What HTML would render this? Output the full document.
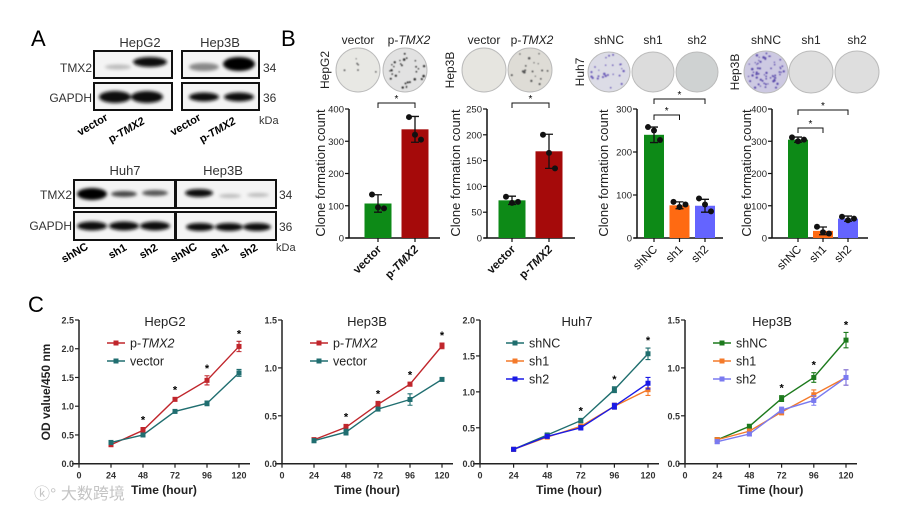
<!DOCTYPE html>
<html><head><meta charset="utf-8"><style>
body{margin:0;background:#fff;}
svg{display:block;font-family:"Liberation Sans",Arial,sans-serif;}
</style></head><body>
<svg id="fig" width="900" height="512" viewBox="0 0 900 512" xmlns="http://www.w3.org/2000/svg">
<defs>
<filter id="blur" x="-30%" y="-80%" width="160%" height="260%"><feGaussianBlur stdDeviation="1.6"/></filter>
<filter id="blur2"><feGaussianBlur stdDeviation="0.6"/></filter>
</defs>
<rect width="900" height="512" fill="#fff"/>
<!-- Panel A -->
<g>
<text x="31" y="46" font-size="22">A</text>
<text x="140" y="47" font-size="13" fill="#333" text-anchor="middle">HepG2</text>
<text x="220" y="47" font-size="13" fill="#333" text-anchor="middle">Hep3B</text>
<text x="92" y="72" font-size="12" fill="#333" text-anchor="end">TMX2</text>
<text x="92" y="102" font-size="12" fill="#333" text-anchor="end">GAPDH</text>
<rect x="94" y="51" width="78" height="27" fill="#f4f4f4" stroke="#111" stroke-width="2"/>
<rect x="94" y="83" width="78" height="27" fill="#f4f4f4" stroke="#111" stroke-width="2"/>
<rect x="182" y="51" width="77" height="27" fill="#f4f4f4" stroke="#111" stroke-width="2"/>
<rect x="182" y="83" width="77" height="27" fill="#f4f4f4" stroke="#111" stroke-width="2"/>
<g filter="url(#blur)">
<ellipse cx="118" cy="67" rx="13" ry="2.5" fill="#bbb"/>
<ellipse cx="150" cy="62" rx="17" ry="5" fill="#111"/>
<ellipse cx="115" cy="97" rx="16" ry="6" fill="#111"/>
<ellipse cx="147" cy="97" rx="16" ry="6" fill="#111"/>
<ellipse cx="204" cy="67" rx="15" ry="4" fill="#888"/>
<ellipse cx="239" cy="64" rx="16" ry="7" fill="#000"/>
<ellipse cx="204" cy="97" rx="15" ry="4.5" fill="#111"/>
<ellipse cx="239" cy="97" rx="15" ry="4.5" fill="#111"/>
</g>
<text x="263" y="72" font-size="12" fill="#333">34</text>
<text x="263" y="102" font-size="12" fill="#333">36</text>
<text x="259" y="124" font-size="11" fill="#333">kDa</text>
<g font-size="11" font-weight="bold" fill="#000">
<text transform="translate(80,136) rotate(-30)">vector</text>
<text transform="translate(111,143) rotate(-30)">p-<tspan font-style="italic">TMX2</tspan></text>
<text transform="translate(173,136) rotate(-30)">vector</text>
<text transform="translate(202,143) rotate(-30)">p-<tspan font-style="italic">TMX2</tspan></text>
</g>
<text x="125" y="175" font-size="13" fill="#333" text-anchor="middle">Huh7</text>
<text x="223" y="175" font-size="13" fill="#333" text-anchor="middle">Hep3B</text>
<text x="72" y="199" font-size="12" fill="#333" text-anchor="end">TMX2</text>
<text x="72" y="230" font-size="12" fill="#333" text-anchor="end">GAPDH</text>
<rect x="74" y="180" width="101" height="28" fill="#f4f4f4" stroke="#111" stroke-width="2"/>
<rect x="74" y="212" width="101" height="28" fill="#f4f4f4" stroke="#111" stroke-width="2"/>
<rect x="176" y="180" width="100" height="28" fill="#f4f4f4" stroke="#111" stroke-width="2"/>
<rect x="176" y="212" width="100" height="28" fill="#f4f4f4" stroke="#111" stroke-width="2"/>
<g filter="url(#blur)">
<ellipse cx="92" cy="194" rx="15" ry="6" fill="#000"/>
<ellipse cx="124" cy="194" rx="13" ry="3" fill="#444"/>
<ellipse cx="155" cy="193" rx="13" ry="3" fill="#555"/>
<ellipse cx="92" cy="226" rx="15" ry="4.5" fill="#111"/>
<ellipse cx="124" cy="226" rx="15" ry="4.5" fill="#111"/>
<ellipse cx="155" cy="226" rx="15" ry="4.5" fill="#111"/>
<ellipse cx="199" cy="193" rx="14" ry="4" fill="#111"/>
<ellipse cx="230" cy="196" rx="11" ry="2" fill="#bbb"/>
<ellipse cx="258" cy="195" rx="11" ry="2" fill="#bbb"/>
<ellipse cx="200" cy="227" rx="14" ry="4" fill="#111"/>
<ellipse cx="229" cy="227" rx="14" ry="4" fill="#111"/>
<ellipse cx="257" cy="227" rx="14" ry="4" fill="#111"/>
</g>
<text x="279" y="199" font-size="12" fill="#333">34</text>
<text x="279" y="231" font-size="12" fill="#333">36</text>
<text x="276" y="251" font-size="11" fill="#333">kDa</text>
<g font-size="11" font-weight="bold" fill="#000">
<text transform="translate(64,263) rotate(-30)">shNC</text>
<text transform="translate(111,259) rotate(-30)">sh1</text>
<text transform="translate(142,259) rotate(-30)">sh2</text>
<text transform="translate(173,263) rotate(-30)">shNC</text>
<text transform="translate(213,259) rotate(-30)">sh1</text>
<text transform="translate(242,259) rotate(-30)">sh2</text>
</g>
</g>
<!-- Panel B header -->
<g>
<text x="281" y="46" font-size="22">B</text>
<g font-size="12" fill="#222" text-anchor="middle">
<text x="358" y="44">vector</text><text x="409" y="44">p-<tspan font-style="italic">TMX2</tspan></text>
<text x="484" y="44">vector</text><text x="532" y="44">p-<tspan font-style="italic">TMX2</tspan></text>
<text x="609" y="44">shNC</text><text x="653" y="44">sh1</text><text x="697" y="44">sh2</text>
<text x="766" y="44">shNC</text><text x="811" y="44">sh1</text><text x="857" y="44">sh2</text>
</g>
<g font-size="12" fill="#222" text-anchor="middle">
<text transform="translate(329,70) rotate(-90)">HepG2</text>
<text transform="translate(454,70) rotate(-90)">Hep3B</text>
<text transform="translate(584,72) rotate(-90)">Huh7</text>
<text transform="translate(739,72) rotate(-90)">Hep3B</text>
</g>
<g stroke="#bbb" stroke-width="1">
<ellipse cx="358" cy="70" rx="22" ry="22" fill="#e8e8e4"/>
<ellipse cx="405" cy="70" rx="22" ry="22" fill="#e2e2e2"/>
<ellipse cx="484" cy="70" rx="22" ry="22" fill="#e6e5e0"/>
<ellipse cx="530" cy="70" rx="22" ry="22" fill="#dedcd6"/>
<ellipse cx="609" cy="72" rx="21" ry="20" fill="#dcdce6"/>
<ellipse cx="653" cy="72" rx="21" ry="20" fill="#dcdcdc"/>
<ellipse cx="697" cy="72" rx="21" ry="20" fill="#cfd2d2"/>
<ellipse cx="766" cy="72" rx="22" ry="21" fill="#cdc9e2"/>
<ellipse cx="811" cy="72" rx="22" ry="21" fill="#dedede"/>
<ellipse cx="857" cy="72" rx="22" ry="21" fill="#dedede"/>
</g>
<g id="speckles" filter="url(#blur2)"></g>
</g>
<g id="bars"></g>
<!-- Panel C -->
<text x="28" y="312" font-size="22">C</text>
<text transform="translate(50,392) rotate(-90)" font-size="12" font-weight="bold" fill="#222" text-anchor="middle">OD value/450 nm</text>
<g id="lines"></g>
<text x="34" y="499" font-size="16" fill="#c4c4c4" font-family="'Liberation Sans','Noto Sans CJK SC',sans-serif">ⓚ° 大数跨境</text>
</svg>
<script>
// ---- Panel B data ----
const b1Cats = ['vector', 'p-TMX2'];
const b1Vals = [107, 337];
const b1Err = [27, 40];
const b1Dots = [[135, 95, 92], [375, 320, 305]];
const b1Ticks = [0, 100, 200, 300, 400];
const b2Cats = ['vector', 'p-TMX2'];
const b2Vals = [73, 168];
const b2Err = [8, 33];
const b2Dots = [[80, 68, 70], [200, 165, 135]];
const b2Ticks = [0, 50, 100, 150, 200, 250];
const b3Cats = ['shNC', 'sh1', 'sh2'];
const b3Vals = [240, 76, 75];
const b3Err = [18, 8, 15];
const b3Dots = [[258, 250, 228], [84, 72, 78], [92, 78, 62]];
const b3Ticks = [0, 100, 200, 300];
const b4Cats = ['shNC', 'sh1', 'sh2'];
const b4Vals = [305, 22, 60];
const b4Err = [8, 12, 8];
const b4Dots = [[312, 300, 305], [35, 18, 14], [66, 55, 60]];
const b4Ticks = [0, 100, 200, 300, 400];
// ---- Panel C data ----
const xHours = [24, 48, 72, 96, 120];
const xTicks = [0, 24, 48, 72, 96, 120];
const c1Red = [0.33, 0.58, 1.12, 1.45, 2.04];
const c1RedErr = [0.03, 0.05, 0.03, 0.08, 0.09];
const c1Teal = [0.37, 0.50, 0.91, 1.05, 1.58];
const c1TealErr = [0.03, 0.03, 0.03, 0.04, 0.06];
const c1Ticks = [0, 0.5, 1.0, 1.5, 2.0, 2.5];
const c2Red = [0.25, 0.38, 0.62, 0.83, 1.23];
const c2RedErr = [0.02, 0.03, 0.03, 0.02, 0.03];
const c2Teal = [0.24, 0.33, 0.57, 0.67, 0.88];
const c2TealErr = [0.02, 0.03, 0.02, 0.06, 0.01];
const c2Ticks = [0, 0.5, 1.0, 1.5];
const c3ShNC = [0.20, 0.40, 0.60, 1.03, 1.53];
const c3Sh1 = [0.20, 0.37, 0.52, 0.80, 1.03];
const c3Sh2 = [0.20, 0.38, 0.50, 0.80, 1.12];
const c3Err = [0.01, 0.02, 0.03, 0.04, 0.08];
const c3Ticks = [0, 0.5, 1.0, 1.5, 2.0];
const c4ShNC = [0.25, 0.39, 0.68, 0.90, 1.29];
const c4Sh1 = [0.25, 0.34, 0.54, 0.72, 0.90];
const c4Sh2 = [0.23, 0.31, 0.56, 0.66, 0.90];
const c4Err = [0.02, 0.02, 0.03, 0.05, 0.08];
const c4Ticks = [0, 0.5, 1.0, 1.5];

const NS = 'http://www.w3.org/2000/svg';
function mk(tag, attrs, parent) {
  const e = document.createElementNS(NS, tag);
  for (const k in attrs) e.setAttribute(k, attrs[k]);
  parent.appendChild(e);
  return e;
}
const barsG = document.getElementById('bars');
const linesG = document.getElementById('lines');

// speckles on dishes (decorative, deterministic pseudo-scatter)
const sp = document.getElementById('speckles');
const dishSpecs = [[405, 70, 22, '#333', 30], [530, 70, 22, '#555', 18], [609, 72, 20, '#6a5ab8', 25], [766, 72, 21, '#5a4aaa', 60], [358, 70, 22, '#666', 6]];
let seed = 7;
function prand() { seed = (seed * 9301 + 49297) % 233280; return seed / 233280; }
dishSpecs.forEach(function (d) {
  for (let i = 0; i < d[4]; i++) {
    const a = prand() * 6.283, r = d[2] * 0.92 * Math.sqrt(prand());
    const c = mk('circle', {cx: d[0] + r * Math.cos(a), cy: d[1] + r * Math.sin(a), r: 0.6 + prand() * 0.7, fill: d[3]}, sp);
    
    
  }
});

function barChart(o) {
  const g = mk('g', {}, barsG);
  
  
  const y0 = 238, yT = 109;
  const maxV = o.ticks[o.ticks.length - 1];
  const ys = v => y0 - (v / maxV) * (y0 - yT);
  const xs = i => o.first + i * o.step;
  const ya = mk('line', {x1: o.ax, y1: y0, x2: o.ax, y2: yT, stroke: '#111', 'stroke-width': 1.5}, g);
  
  
  const xa = mk('line', {x1: o.ax - 3, y1: y0, x2: o.xend, y2: y0, stroke: '#111', 'stroke-width': 1.5}, g);
  
  
  o.ticks.forEach(function (t) {
    const tk = mk('line', {x1: o.ax - 4, y1: ys(t), x2: o.ax, y2: ys(t), stroke: '#111', 'stroke-width': 1.2}, g);
    
    
    const tl = mk('text', {x: o.ax - 5, y: ys(t) + 3.5, 'font-size': 9.5, 'text-anchor': 'end', fill: '#222'}, g);
    
    
    tl.textContent = t;
  });
  const yt = mk('text', {transform: 'translate(' + o.yl + ',173) rotate(-90)', 'font-size': 13, 'text-anchor': 'middle', fill: '#222'}, g);
  
  
  yt.textContent = 'Clone formation count';
  o.cats.forEach(function (c, i) {
    const x = xs(i);
    const b = mk('rect', {x: x - o.bw / 2, y: ys(o.vals[i]), width: o.bw, height: y0 - ys(o.vals[i]), fill: o.colors[i]}, g);
    
    
    const e1 = ys(o.vals[i] + o.err[i]), e2 = ys(o.vals[i] - o.err[i]);
    const eb = mk('path', {d: 'M' + x + ',' + e1 + 'V' + e2 + 'M' + (x - 4) + ',' + e1 + 'H' + (x + 4) + 'M' + (x - 4) + ',' + e2 + 'H' + (x + 4), stroke: '#111', 'stroke-width': 1.3, fill: 'none'}, g);
    
    
    o.dots[i].forEach(function (v, j) {
      const d = mk('circle', {cx: x + (j - 1) * 6, cy: ys(v), r: 3, fill: '#111'}, g);
      
      
    });
    const tk = mk('line', {x1: x, y1: y0, x2: x, y2: y0 + 4, stroke: '#111', 'stroke-width': 1.2}, g);
    
    
    const lb = mk('text', {transform: 'translate(' + (x + 4) + ',' + (y0 + 12) + ') rotate(-45)', 'font-size': 11.5, 'text-anchor': 'end', fill: '#111', 'font-weight': o.bold ? 'bold' : 'normal'}, g);
    
    
    if (c === 'p-TMX2') {
      lb.textContent = 'p-';
      const ts = mk('tspan', {'font-style': 'italic'}, lb);
      ts.textContent = 'TMX2';
    } else lb.textContent = c;
  });
  o.brackets.forEach(function (br) {
    const x1 = xs(br[0]), x2 = xs(br[1]);
    const p = mk('path', {d: 'M' + x1 + ',' + (br[2] + 5) + 'V' + br[2] + 'H' + x2 + 'V' + (br[2] + 5), stroke: '#111', 'stroke-width': 1, fill: 'none'}, g);
    
    
    const s = mk('text', {x: (x1 + x2) / 2, y: br[2] - 1, 'font-size': 10, 'text-anchor': 'middle'}, g);
    
    
    s.textContent = '*';
  });
}
barChart({name: 'bar-chart-hepg2', ax: 349, xend: 440, first: 378, step: 37, bw: 27, yl: 325, cats: b1Cats, vals: b1Vals, err: b1Err, dots: b1Dots, ticks: b1Ticks, colors: ['#0d8a17', '#a50a0a'], bold: true, brackets: [[0, 1, 103]]});
barChart({name: 'bar-chart-hep3b', ax: 487, xend: 575, first: 512, step: 37, bw: 27, yl: 460, cats: b2Cats, vals: b2Vals, err: b2Err, dots: b2Dots, ticks: b2Ticks, colors: ['#0d8a17', '#a50a0a'], bold: true, brackets: [[0, 1, 103]]});
barChart({name: 'bar-chart-huh7-sh', ax: 637, xend: 723, first: 654, step: 25.5, bw: 20, yl: 608, cats: b3Cats, vals: b3Vals, err: b3Err, dots: b3Dots, ticks: b3Ticks, colors: ['#0d8a17', '#ff6a12', '#6464ff'], bold: false, brackets: [[0, 2, 99], [0, 1, 115]]});
barChart({name: 'bar-chart-hep3b-sh', ax: 772, xend: 868, first: 798, step: 25, bw: 20, yl: 751, cats: b4Cats, vals: b4Vals, err: b4Err, dots: b4Dots, ticks: b4Ticks, colors: ['#0d8a17', '#ff6a12', '#6464ff'], bold: false, brackets: [[0, 2, 110], [0, 1, 128]]});

function lineChart(o) {
  const g = mk('g', {}, linesG);
  
  
  const y0 = 463.7, yT = 320;
  const maxV = o.ticks[o.ticks.length - 1];
  const ys = v => y0 - (v / maxV) * (y0 - yT);
  const xs = h => o.ax + (h / 120) * (o.x120 - o.ax);
  const ya = mk('line', {x1: o.ax, y1: y0, x2: o.ax, y2: yT, stroke: '#222', 'stroke-width': 1.5}, g);
  
  
  const xa = mk('line', {x1: o.ax - 7, y1: y0, x2: o.x120 + 11, y2: y0, stroke: '#222', 'stroke-width': 1.5}, g);
  
  
  o.ticks.forEach(function (t) {
    const tk = mk('line', {x1: o.ax - 4, y1: ys(t), x2: o.ax, y2: ys(t), stroke: '#222', 'stroke-width': 1.2}, g);
    
    
    const tl = mk('text', {x: o.ax - 5, y: ys(t) + 3.5, 'font-size': 9, 'font-weight': 'bold', 'text-anchor': 'end', fill: '#333'}, g);
    
    
    tl.textContent = t.toFixed(1);
  });
  xTicks.forEach(function (h) {
    const tk = mk('line', {x1: xs(h), y1: y0, x2: xs(h), y2: y0 + 4, stroke: '#222', 'stroke-width': 1.2}, g);
    
    
    const tl = mk('text', {x: xs(h), y: y0 + 15, 'font-size': 9, 'font-weight': 'bold', 'text-anchor': 'middle', fill: '#333'}, g);
    
    
    tl.textContent = h;
  });
  const xt = mk('text', {x: (o.ax + o.x120) / 2 + 5, y: 494, 'font-size': 12, 'font-weight': 'bold', 'text-anchor': 'middle', fill: '#222'}, g);
  
  
  xt.textContent = 'Time (hour)';
  const ti = mk('text', {x: o.tx, y: 326, 'font-size': 13, 'text-anchor': 'middle', fill: '#222'}, g);
  
  
  ti.textContent = o.title;
  o.series.forEach(function (s, si) {
    const pts = xHours.map((h, i) => xs(h) + ',' + ys(s.vals[i])).join(' ');
    const pl = mk('polyline', {points: pts, fill: 'none', stroke: s.color, 'stroke-width': 1.4}, g);
    
    
    xHours.forEach(function (h, i) {
      const x = xs(h), v = s.vals[i], e = s.err[i];
      const eb = mk('path', {d: 'M' + x + ',' + ys(v + e) + 'V' + ys(v - e) + 'M' + (x - 2.5) + ',' + ys(v + e) + 'H' + (x + 2.5) + 'M' + (x - 2.5) + ',' + ys(v - e) + 'H' + (x + 2.5), stroke: s.color, 'stroke-width': 1.1, fill: 'none'}, g);
      
      
      const m = mk('rect', {x: x - 2.5, y: ys(v) - 2.5, width: 5, height: 5, fill: s.color}, g);
      
      
    });
    const ly = 343 + si * 18;
    const ll = mk('line', {x1: o.lx, y1: ly, x2: o.lx + 18, y2: ly, stroke: s.color, 'stroke-width': 1.4}, g);
    
    
    const lm = mk('rect', {x: o.lx + 6.5, y: ly - 2.5, width: 5, height: 5, fill: s.color}, g);
    
    
    const lt = mk('text', {x: o.lx + 23, y: ly + 4.5, 'font-size': 12.5, fill: '#222'}, g);
    
    
    if (s.label === 'p-TMX2') {
      lt.textContent = 'p-';
      const ts = mk('tspan', {'font-style': 'italic'}, lt);
      ts.textContent = 'TMX2';
    } else lt.textContent = s.label;
  });
  o.stars.forEach(function (i) {
    const top = Math.max.apply(null, o.series.map(s => s.vals[i] + s.err[i]));
    const st = mk('text', {x: xs(xHours[i]), y: ys(top) - 4, 'font-size': 11, 'font-weight': 'bold', 'text-anchor': 'middle'}, g);
    
    
    st.textContent = '*';
  });
}
lineChart({name: 'line-chart-hepg2', title: 'HepG2', tx: 165, ax: 79, x120: 239, lx: 107, ticks: c1Ticks, stars: [1, 2, 3, 4],
  series: [{label: 'p-TMX2', vals: c1Red, err: c1RedErr, color: '#c0262c'}, {label: 'vector', vals: c1Teal, err: c1TealErr, color: '#206e70'}]});
lineChart({name: 'line-chart-hep3b', title: 'Hep3B', tx: 367, ax: 282, x120: 442, lx: 310, ticks: c2Ticks, stars: [1, 2, 3, 4],
  series: [{label: 'p-TMX2', vals: c2Red, err: c2RedErr, color: '#c0262c'}, {label: 'vector', vals: c2Teal, err: c2TealErr, color: '#206e70'}]});
lineChart({name: 'line-chart-huh7', title: 'Huh7', tx: 577, ax: 480, x120: 648, lx: 506, ticks: c3Ticks, stars: [2, 3, 4],
  series: [{label: 'shNC', vals: c3ShNC, err: c3Err, color: '#1f6e6e'}, {label: 'sh1', vals: c3Sh1, err: c3Err, color: '#f47a2a'}, {label: 'sh2', vals: c3Sh2, err: c3Err, color: '#1a1ae6'}]});
lineChart({name: 'line-chart-hep3b-sh', title: 'Hep3B', tx: 772, ax: 685, x120: 846, lx: 713, ticks: c4Ticks, stars: [2, 3, 4],
  series: [{label: 'shNC', vals: c4ShNC, err: c4Err, color: '#1d7a1d'}, {label: 'sh1', vals: c4Sh1, err: c4Err, color: '#f47a2a'}, {label: 'sh2', vals: c4Sh2, err: c4Err, color: '#7a7af0'}]});
</script>
</body></html>
